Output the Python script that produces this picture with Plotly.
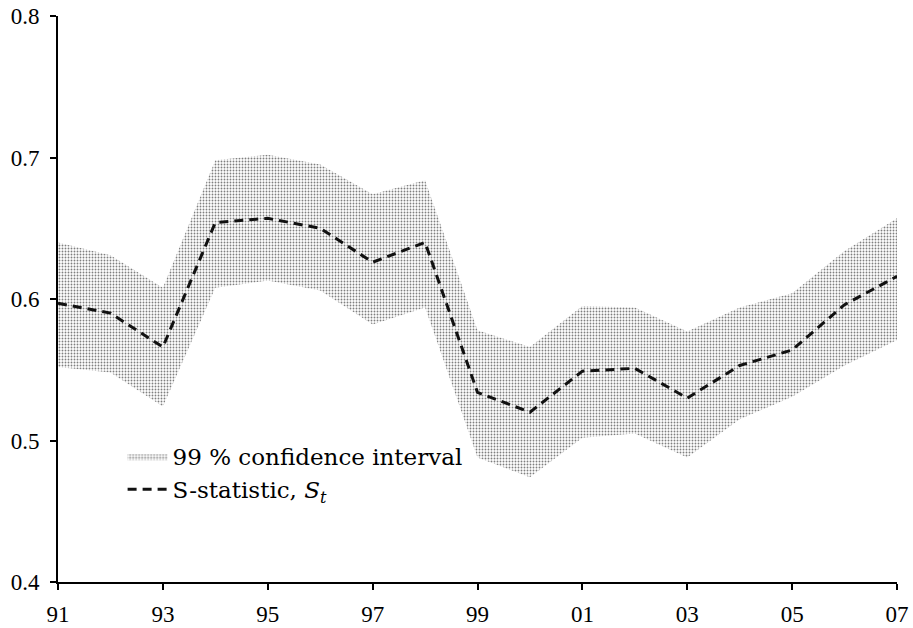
import plotly.graph_objects as go

years = list(range(1991, 2008))
s_stat = [0.597, 0.590, 0.566, 0.654, 0.657, 0.650, 0.626, 0.640, 0.534,
          0.520, 0.549, 0.551, 0.530, 0.553, 0.564, 0.596, 0.616]
ci_upper = [0.640, 0.631, 0.608, 0.698, 0.702, 0.695, 0.674, 0.684, 0.578,
            0.566, 0.595, 0.594, 0.577, 0.594, 0.604, 0.634, 0.657]
ci_lower = [0.552, 0.548, 0.524, 0.608, 0.613, 0.606, 0.582, 0.594, 0.488,
            0.474, 0.502, 0.505, 0.488, 0.515, 0.531, 0.553, 0.571]
x_tickvals = [1991, 1993, 1995, 1997, 1999, 2001, 2003, 2005, 2007]
x_ticktext = ["91", "93", "95", "97", "99", "01", "03", "05", "07"]
y_tickvals = [0.4, 0.5, 0.6, 0.7, 0.8]

tick_font = dict(family="Liberation Serif, Times New Roman, serif", size=23, color="black")

fig = go.Figure()
fig.add_trace(go.Scatter(x=years, y=ci_lower, mode="lines", line=dict(width=0),
                         showlegend=False, hoverinfo="skip", legendgroup="a"))
fig.add_trace(go.Scatter(x=years, y=ci_upper, mode="lines", line=dict(width=0),
                         fill="tonexty", fillcolor="white",
                         fillpattern=dict(shape=".", fgcolor="#000000", bgcolor="white",
                                          size=3, solidity=0.3),
                         name="99 % confidence interval", legendgroup="a"))
fig.add_trace(go.Scatter(x=years, y=s_stat, mode="lines",
                         line=dict(color="#111111", width=3, dash="9px,6px"),
                         name="S-statistic, <i>S</i><sub><i>t</i></sub>", legendgroup="b"))

fig.update_layout(
    width=913, height=628,
    margin=dict(l=58, r=16, t=16, b=46, autoexpand=False),
    paper_bgcolor="white", plot_bgcolor="white",
    font=tick_font,
    legend=dict(x=0.077, y=0.26, xanchor="left", yanchor="top",
                font=dict(family="DejaVu Serif", size=23, color="black"),
                bgcolor="rgba(0,0,0,0)", tracegroupgap=0, itemwidth=40),
    xaxis=dict(range=[1991, 2007], tickvals=x_tickvals, ticktext=x_ticktext,
               tickfont=tick_font, automargin=False, ticklabelstandoff=4,
               showgrid=False, zeroline=False, showline=True, linecolor="black",
               linewidth=2, ticks="outside", ticklen=6, tickwidth=1.5, tickcolor="black"),
    yaxis=dict(range=[0.4, 0.8], tickvals=y_tickvals, tickformat=".1f",
               tickfont=tick_font, automargin=False, ticklabelstandoff=6,
               showgrid=False, zeroline=False, showline=True, linecolor="black",
               linewidth=2, ticks="outside", ticklen=6, tickwidth=1.5, tickcolor="black"),
)

fig.write_html("out.html")
